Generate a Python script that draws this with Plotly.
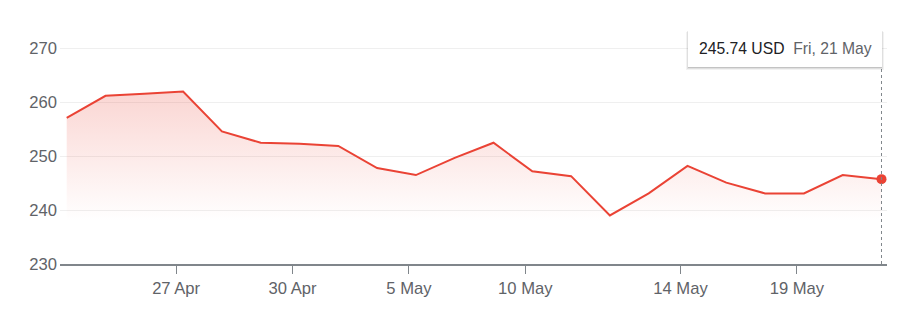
import plotly.graph_objects as go
import pandas as pd

# ---- data ----
dates = ["2021-04-22", "2021-04-23", "2021-04-26", "2021-04-27", "2021-04-28", "2021-04-29",
         "2021-04-30", "2021-05-03", "2021-05-04", "2021-05-05", "2021-05-06", "2021-05-07",
         "2021-05-10", "2021-05-11", "2021-05-12", "2021-05-13", "2021-05-14", "2021-05-17",
         "2021-05-18", "2021-05-19", "2021-05-20", "2021-05-21"]
closes = [257.1, 261.2, 261.6, 262.0, 254.6, 252.5, 252.3, 251.9, 247.8, 246.5, 249.7,
          252.5, 247.2, 246.3, 239.0, 243.1, 248.2, 245.1, 243.1, 243.1, 246.5, 245.74]
tick_dates = ["2021-04-27", "2021-04-30", "2021-05-05", "2021-05-10", "2021-05-14", "2021-05-19"]
tick_labels = ["27 Apr", "30 Apr", "5 May", "10 May", "14 May", "19 May"]
y_ticks = [230, 240, 250, 260, 270]
currency = "USD"

# ---- layout constants ----
W, H = 902, 310
ML, MR, MT, MB = 60, 15, 43, 46
PW, PH = W - ML - MR, H - MT - MB
RED = "#ea4335"
GRAY_TXT = "#5f6368"
FONT = "Arial, Liberation Sans, sans-serif"

idx = list(range(len(dates)))
last = idx[-1]
x_range = [-0.173, last + 0.142]
y_range = [230, 271]
TICK_OFFSET = 0.18
tickvals = [dates.index(d) - TICK_OFFSET for d in tick_dates]


def px_to_xpaper(px):
    return (px - ML) / PW


def px_to_ypaper(py):
    return (H - MB - py) / PH


fig = go.Figure()
fig.add_trace(go.Scatter(
    x=idx, y=closes, mode="lines",
    line=dict(color=RED, width=2),
    fill="tozeroy",
    fillgradient=dict(type="vertical", start=238, stop=262,
                      colorscale=[[0, "rgba(234,67,53,0)"], [1, "rgba(234,67,53,0.22)"]]),
    hoverinfo="skip", showlegend=False,
))
fig.add_trace(go.Scatter(
    x=[last], y=[closes[-1]], mode="markers",
    marker=dict(color=RED, size=10),
    hoverinfo="skip", showlegend=False,
))

# tooltip box (shadow + box)
bx0, bx1, by0, by1 = 688, 882, 30, 67
shapes = []
for d, a in [(3, 0.05), (2, 0.08), (1, 0.12)]:
    shapes.append(dict(type="rect", xref="paper", yref="paper",
                       x0=px_to_xpaper(bx0 - d + 1), x1=px_to_xpaper(bx1 + d - 1),
                       y0=px_to_ypaper(by1 + d), y1=px_to_ypaper(by0 + d - 1),
                       line=dict(width=0), fillcolor=f"rgba(0,0,0,{a})", layer="above"))
shapes.append(dict(type="rect", xref="paper", yref="paper",
                   x0=px_to_xpaper(bx0), x1=px_to_xpaper(bx1),
                   y0=px_to_ypaper(by1), y1=px_to_ypaper(by0),
                   line=dict(width=0), fillcolor="white", layer="above"))
# dotted crosshair
shapes.insert(0, dict(type="line", xref="x", yref="paper", x0=last, x1=last,
                      y0=0, y1=px_to_ypaper(by1),
                      line=dict(color="#80868b", width=1, dash="dot"), layer="above"))

date_txt = pd.Timestamp(dates[-1]).strftime("%a, %d %b").replace(" 0", " ")
tooltip = (f"<span style='color:#202124'>{closes[-1]:.2f} {currency}</span>"
           f"\u00a0\u00a0<span style='color:{GRAY_TXT}'>{date_txt}</span>")

fig.update_layout(
    width=W, height=H,
    margin=dict(l=ML, r=MR, t=MT, b=MB),
    paper_bgcolor="white", plot_bgcolor="white",
    font=dict(family=FONT, size=16.6, color=GRAY_TXT),
    shapes=shapes,
    annotations=[dict(xref="paper", yref="paper",
                      x=px_to_xpaper((bx0 + bx1) / 2), y=px_to_ypaper((by0 + by1) / 2),
                      xanchor="center", yanchor="middle", showarrow=False,
                      text=tooltip, font=dict(family=FONT, size=15.7))],
    xaxis=dict(range=x_range, tickmode="array", tickvals=tickvals, ticktext=tick_labels,
               showgrid=False, zeroline=False, showline=True, linecolor="#80868b", linewidth=2,
               ticks="outside", ticklen=8, tickcolor="#80868b", tickwidth=1,
               tickfont=dict(size=16.6, color=GRAY_TXT), fixedrange=True),
    yaxis=dict(range=y_range, tickmode="array", tickvals=y_ticks,
               showgrid=True, gridcolor="#efefef", gridwidth=1, zeroline=False,
               showline=False, ticks="", ticklabelstandoff=2,
               tickfont=dict(size=16.6, color=GRAY_TXT), fixedrange=True),
)

fig.write_html("out.html")
